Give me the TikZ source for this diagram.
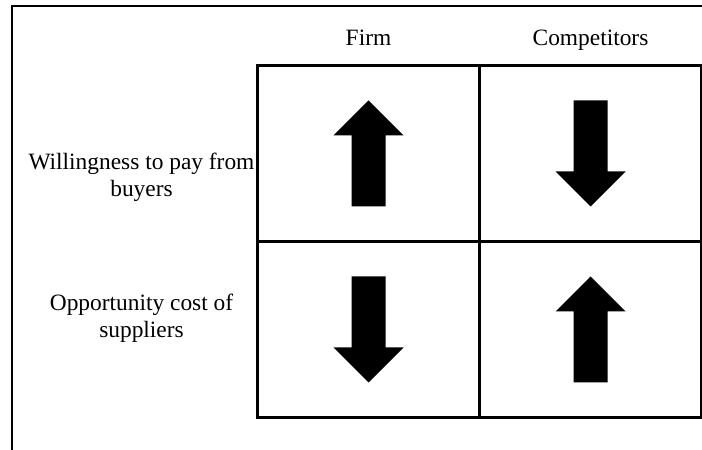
\documentclass[tikz,border=0pt]{standalone}
\usepackage{fontspec}
\setmainfont{Liberation Serif}
\usetikzlibrary{positioning}

\tikzset{
  cell/.style={draw, line width=1.8pt, minimum width=111pt, minimum height=88pt, inner sep=0pt},
  heading/.style={font=\fontsize{11.7}{13.5}\selectfont, inner sep=1pt},
  row label/.style={heading, align=center},
  frame/.style={line width=1pt},
  block arrow/.pic={
    \fill (-17,-53) -- (17,-53) -- (17,18) -- (35,18) -- (0,53)
      -- (-35,18) -- (-17,18) -- cycle;
  }
}

\begin{document}
\begin{tikzpicture}[x=0.5pt, y=0.5pt]
\useasboundingbox (0,0) rectangle (702,450);

% outer frame, open at the right and bottom
\draw [frame] (12,0) -- (12,444) -- (702,444);

% the 2x2 table
\foreach \cx [count=\c] in {368.5,590.5}
  \foreach \cy [count=\r] in {296.5,120.5}
    \node [cell] (cell-\c-\r) at (\cx,\cy) {};

\foreach \l [count=\c] in {Firm, Competitors}
  \node [heading, above=9pt of cell-\c-1.north, anchor=base] (head-\c) {\l};

\foreach \l/\y [count=\r] in {Willingness to pay from\\buyers/273, Opportunity cost of\\suppliers/132}
  \node [row label] (row-\r) at (141.5,\y) {\l};

% up / down arrows in the cells
\foreach \c/\r/\a in {1/1/0, 2/1/180, 1/2/180, 2/2/0}
  \pic [rotate=\a] at (cell-\c-\r) {block arrow};

\end{tikzpicture}
\end{document}
